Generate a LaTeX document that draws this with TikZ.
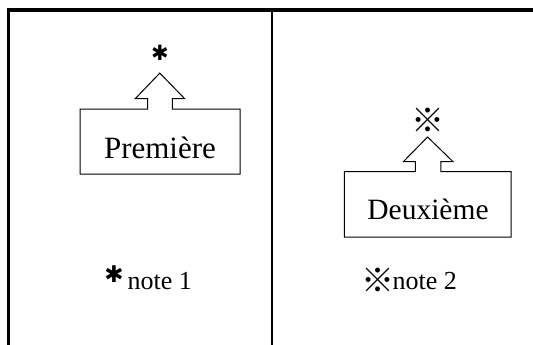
\documentclass[tikz,border=0pt]{standalone}
\usepackage{fontspec}
\setmainfont{Liberation Serif}
\newfontfamily\symfont{DejaVu Sans}
\newfontfamily\cjkfont{Noto Sans CJK JP}
\newcommand{\refmark}{\makebox[22pt]{※}}
\begin{document}
\begin{tikzpicture}[x=1pt,y=-1pt,
  frame/.style={line width=3.5pt},
  divider/.style={line width=2.8pt},
  shapeline/.style={line width=1pt,line join=miter},
  lbl/.style={inner sep=0pt,anchor=base},
  sym/.style={inner sep=0pt,anchor=center},
  reffont/.style={font=\cjkfont\fontsize{33}{36}\selectfont}]
\useasboundingbox (0,0) rectangle (533,345);
\clip (0,0) rectangle (533,345);
% frame
\coordinate (tl) at (8.5,10);
\coordinate (tr) at (540,10);
\coordinate (bl) at (8.5,350);
\coordinate (dt) at (272,10);
\coordinate (db) at (272,350);
\draw[frame] (bl) -- (tl) -- (tr);
\draw[divider] (dt) -- (db);
% first box with arrow
\draw[shapeline] (80,174) -- (80,109) -- (147.5,109) -- (147.5,98.6) -- (135.3,98.6)
  -- (159.8,73.1) -- (184.6,98.6) -- (172.3,98.6) -- (172.3,109) -- (240,109) -- (240,174) -- cycle;
\node[lbl,font=\fontsize{31}{36}\selectfont] (premiere) at (160,158) {Première};
\node[sym,font=\symfont\fontsize{21}{24}\selectfont] (star1) at (160,53) {✱};
% second box with arrow
\draw[shapeline] (344.3,237) -- (344.3,171.7) -- (415.4,171.7) -- (415.4,161.5) -- (403.5,161.5)
  -- (427.6,137) -- (452.8,161.5) -- (440.9,161.5) -- (440.9,171.7) -- (511,171.7) -- (511,237) -- cycle;
\node[lbl,font=\fontsize{29.5}{34}\selectfont] (deuxieme) at (428,219) {Deuxième};
\node[sym,reffont] (ref1) at (427.6,120.7) {\refmark};
% notes
\node[sym,font=\symfont\fontsize{23}{26}\selectfont] (star2) at (114,274) {✱};
\node[lbl,anchor=base west,font=\fontsize{26}{30}\selectfont] (note1) at (127.5,289.6) {note 1};
\node[sym,reffont] (ref2) at (378,280) {\refmark};
\node[lbl,anchor=base west,font=\fontsize{26}{30}\selectfont] (note2) at (392.5,289.6) {note 2};
\end{tikzpicture}
\end{document}
